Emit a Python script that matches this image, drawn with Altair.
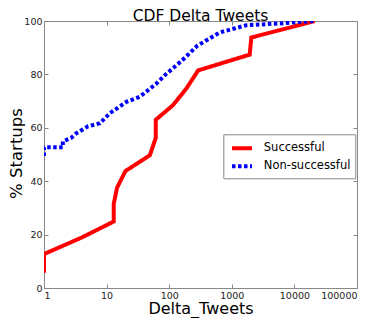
import altair as alt
import pandas as pd

succ_x = [1, 1, 4, 13, 13, 14.7, 20, 49, 61, 61, 115, 188, 290, 1930, 2050, 21000]
succ_y = [5.7, 12.7, 18.9, 24.9, 31.5, 37.6, 43.8, 49.7, 56.2, 63.0, 68.5, 74.7, 81.5, 87.4, 93.8, 100]
non_x = [1, 1, 2.0, 2.0, 2.7, 3.3, 5.0, 7.8, 11.2, 20.7, 33.8, 62, 90, 160, 280, 640, 1700, 5800, 20000]
non_y = [49.4, 52.7, 52.7, 54.9, 56.2, 58.0, 60.5, 61.7, 65.4, 69.7, 71.6, 76.5, 80.2, 85.2, 90.7, 95.7, 98.4, 99.1, 100]
series = ["Successful", "Non-successful"]
x_ticks = [1, 10, 100, 1000, 10000, 100000]
y_ticks = [0, 20, 40, 60, 80, 100]

rows = []
for i, (x, y) in enumerate(zip(succ_x, succ_y)):
    rows.append({"x": x, "y": y, "s": series[0], "o": i})
for i, (x, y) in enumerate(zip(non_x, non_y)):
    rows.append({"x": x, "y": y, "s": series[1], "o": i})
df = pd.DataFrame(rows)

xscale = alt.Scale(type="log", domain=[1, 100000])
yscale = alt.Scale(domain=[0, 100])

legend = alt.Legend(
    title=None, orient="none", legendX=179.3, legendY=113.3,
    fillColor="white", strokeColor="#888", padding=4,
    symbolType="M-0.66,0H1.84", symbolSize=256, symbolStrokeWidth=4,
    labelFontSize=11.5, labelColor="#000", rowPadding=0, labelOffset=16.5,
)

base = alt.Chart(df).mark_line(strokeWidth=4, clip=True).encode(
    x=alt.X("x:Q", scale=xscale,
            axis=alt.Axis(title="Delta_Tweets", orient="bottom", values=x_ticks, format="d",
                          ticks=False, labelPadding=2, labelFontSize=9.5,
                          titleFontSize=16, titleFontWeight="normal",
                          titleY=25, titleBaseline="alphabetic",
                          grid=False, domain=False,
                          labelColor="#222", titleColor="#000")),
    y=alt.Y("y:Q", scale=yscale,
            axis=alt.Axis(title="% Startups", orient="left", values=y_ticks,
                          ticks=False, labelPadding=2, labelFontSize=9.5,
                          titleFontSize=16.5, titleFontWeight="normal",
                          titleX=-22.5, titleY=132, titleBaseline="alphabetic",
                          grid=False, domain=False,
                          labelColor="#222", titleColor="#000")),
    color=alt.Color("s:N", scale=alt.Scale(domain=series, range=["#ff0000", "#0000ff"]),
                    legend=legend, sort=series),
    strokeDash=alt.StrokeDash("s:N", scale=alt.Scale(domain=series, range=[[1, 0], [3.5, 2.5]]),
                              legend=legend, sort=series),
    order="o:Q",
)


def tick_axis(orient, vals):
    return alt.Axis(title=None, orient=orient, values=vals, labels=False,
                    ticks=True, tickSize=4, tickColor="#888", offset=-4,
                    grid=False, domain=False)


ticks_lb = alt.Chart(df).mark_line(strokeOpacity=0).encode(
    x=alt.X("x:Q", scale=xscale, axis=tick_axis("bottom", x_ticks)),
    y=alt.Y("y:Q", scale=yscale, axis=tick_axis("left", y_ticks)),
    detail="s:N",
)
ticks_tr = alt.Chart(df).mark_line(strokeOpacity=0).encode(
    x=alt.X("x:Q", scale=xscale, axis=tick_axis("top", x_ticks)),
    y=alt.Y("y:Q", scale=yscale, axis=tick_axis("right", y_ticks)),
    detail="s:N",
)

chart = alt.layer(base, ticks_lb, ticks_tr).resolve_axis(
    x="independent", y="independent"
).properties(
    width=313, height=267,
    title=alt.TitleParams("CDF Delta Tweets", fontSize=15.5, fontWeight="normal",
                          color="#000", offset=-20, baseline="alphabetic",
                          frame="group", anchor="middle"),
    autosize=alt.AutoSizeParams(type="none"),
    padding={"left": 36, "top": 13, "right": 8, "bottom": 30},
).configure(
    font="DejaVu Sans",
).configure_view(
    stroke="#888", strokeWidth=1,
)

chart.save("out.html", embed_options={"renderer": "svg", "actions": False})
